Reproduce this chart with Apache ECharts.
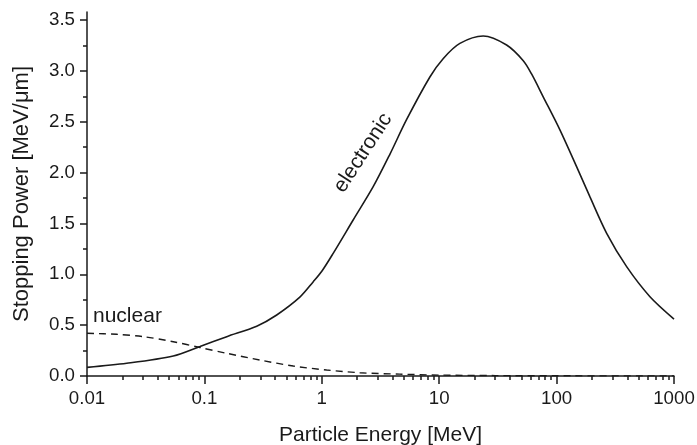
<!DOCTYPE html>
<html>
<head>
<meta charset="utf-8">
<script src="https://cdn.jsdelivr.net/npm/echarts@6/dist/echarts.min.js"></script>
<style>html,body{margin:0;padding:0;background:#fff}#c{width:697px;height:445px}</style>
</head>
<body>
<div id="c"></div>
<script>
// Electronic stopping power (energy in MeV, value in MeV/um)
const elecEnergy = [0.01, 0.0218, 0.0543, 0.0917, 0.155, 0.279, 0.413, 0.65, 0.843, 1.0, 1.25, 1.85, 2.74, 3.8, 5.27, 8.33, 10.8, 15.0, 23.7, 37.5, 52, 61.2, 76.9, 106.7, 148, 192, 267, 395, 624, 1000];
const elecValue  = [0.085, 0.125, 0.197, 0.29, 0.387, 0.49, 0.60, 0.775, 0.925, 1.03, 1.206, 1.534, 1.861, 2.18, 2.52, 2.94, 3.12, 3.27, 3.343, 3.254, 3.10, 2.97, 2.745, 2.42, 2.058, 1.763, 1.403, 1.075, 0.78, 0.56];
// Nuclear stopping power
const nucEnergy = [0.01, 0.0179, 0.0302, 0.0543, 0.0917, 0.155, 0.297, 0.572, 1.1, 2.11, 4.6, 10, 30, 100, 1000];
const nucValue  = [0.42, 0.41, 0.387, 0.337, 0.28, 0.223, 0.157, 0.098, 0.059, 0.032, 0.018, 0.009, 0.004, 0.002, 0.001];

const xMajorTicks = [0.01, 0.1, 1, 10, 100, 1000];
const xMinorTicks = [];
[0.01, 0.1, 1, 10, 100].forEach(d => { for (let k = 2; k <= 9; k++) xMinorTicks.push(+(d * k).toPrecision(3)); });
const yMajorTicks = [0, 0.5, 1.0, 1.5, 2.0, 2.5, 3.0, 3.5];
const yMinorTicks = [0.25, 0.75, 1.25, 1.75, 2.25, 2.75, 3.25];

const ink = '#1a1a1a';
const font = '"Liberation Sans", Arial, sans-serif';

const chart = echarts.init(document.getElementById('c'), null, {renderer: 'canvas'});
chart.setOption({
  animation: false,
  backgroundColor: '#fff',
  grid: {left: 87, right: 23, top: 12, bottom: 69, outerBoundsMode: 'none', containLabel: false},
  xAxis: [{
    type: 'log', logBase: 10, min: 0.01, max: 1000, position: 'bottom',
    name: 'Particle Energy [MeV]', nameLocation: 'middle', nameGap: 49,
    nameTextStyle: {fontFamily: font, fontSize: 21, color: ink},
    axisLine: {show: true, lineStyle: {color: ink, width: 1.5}},
    axisTick: {show: true, length: 8, lineStyle: {color: ink, width: 1.5}, customValues: xMajorTicks},
    axisLabel: {show: true, margin: 13, fontFamily: font, fontSize: 18.7, color: ink, customValues: xMajorTicks,
      formatter: v => String(+(+v).toPrecision(3))},
    splitLine: {show: false}, minorTick: {show: false}
  }, {
    type: 'log', logBase: 10, min: 0.01, max: 1000, position: 'bottom', offset: 0,
    axisLine: {show: false},
    axisTick: {show: true, length: 4, lineStyle: {color: ink, width: 1.5}, customValues: xMinorTicks},
    axisLabel: {show: false}, splitLine: {show: false}
  }],
  yAxis: [{
    type: 'value', min: 0, max: 3.579, position: 'left',
    name: 'Stopping Power [MeV/\u03bcm]', nameLocation: 'middle', nameGap: 54,
    nameTextStyle: {fontFamily: font, fontSize: 22, color: ink},
    axisLine: {show: true, lineStyle: {color: ink, width: 1.5}},
    axisTick: {show: true, length: 7, lineStyle: {color: ink, width: 1.5}, customValues: yMajorTicks},
    axisLabel: {show: true, margin: 12, fontFamily: font, fontSize: 18.7, color: ink, customValues: yMajorTicks,
      formatter: v => (+v).toFixed(1)},
    splitLine: {show: false}
  }, {
    type: 'value', min: 0, max: 3.579, position: 'left', offset: 0,
    axisLine: {show: false},
    axisTick: {show: true, length: 4, lineStyle: {color: ink, width: 1.5}, customValues: yMinorTicks},
    axisLabel: {show: false}, splitLine: {show: false}
  }],
  series: [{
    name: 'electronic', type: 'line', xAxisIndex: 0, yAxisIndex: 0,
    data: elecEnergy.map((e, i) => [e, elecValue[i]]),
    showSymbol: false, smooth: 0.3, lineStyle: {color: ink, width: 1.6}, z: 3
  }, {
    name: 'nuclear', type: 'line', xAxisIndex: 0, yAxisIndex: 0,
    data: nucEnergy.map((e, i) => [e, nucValue[i]]),
    showSymbol: false, smooth: 0.3, lineStyle: {color: ink, width: 1.4, type: [7, 5]}, z: 3
  }],
  graphic: [{
    type: 'text', x: 93, y: 316,
    style: {text: 'nuclear', fontFamily: font, fontSize: 21, fill: ink, verticalAlign: 'middle', align: 'left'}
  }, {
    type: 'text', x: 363, y: 153, rotation: 57 * Math.PI / 180,
    style: {text: 'electronic', fontFamily: font, fontSize: 21, fill: ink, verticalAlign: 'middle', align: 'center'}
  }]
});
</script>
</body>
</html>
